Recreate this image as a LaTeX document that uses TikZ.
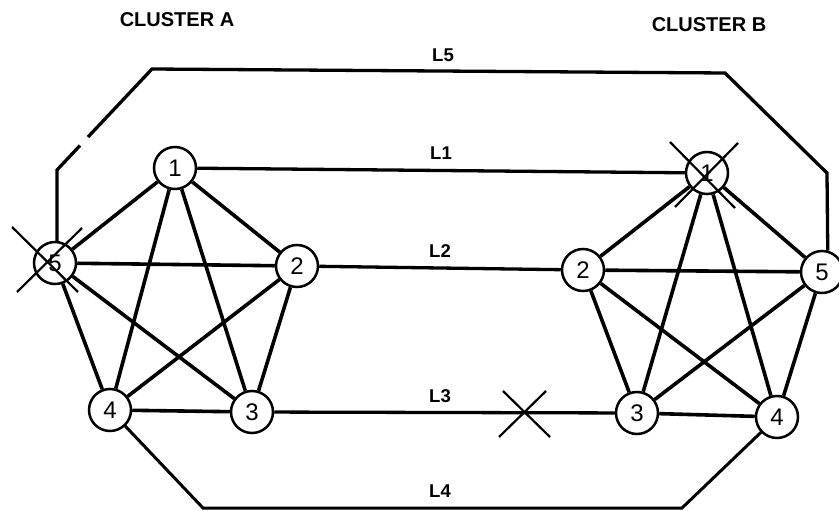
\documentclass[tikz,border=0pt]{standalone}
\usepackage{fontspec}
\setmainfont{Liberation Sans}
\usetikzlibrary{calc}
\tikzset{
  vtx/.style={circle,draw,line width=2.5pt,minimum size=42pt,inner sep=0pt,fill=white,
    font=\fontsize{24}{24}\selectfont},
  edge/.style={line width=3.6pt},
  link/.style={line width=3.3pt},
  cut/.style={line width=2.2pt},
  lbl/.style={font=\fontsize{18.5}{18.5}\selectfont\bfseries,inner sep=0pt},
  clbl/.style={font=\fontsize{20}{20}\selectfont\bfseries,inner sep=0pt}
}
\begin{document}
\begin{tikzpicture}[x=1pt,y=-1pt]
\useasboundingbox (0,0) rectangle (839,511);
% Cluster A nodes
\node[vtx] (A1) at (175,168) {1};
\node[vtx] (A2) at (297,266) {2};
\node[vtx] (A3) at (252,412) {3};
\node[vtx] (A4) at (110,410) {4};
\node[vtx] (A5) at (55,263) {5};
% Cluster B nodes
\node[vtx] (B1) at (707,173) {1};
\node[vtx] (B2) at (583,270) {2};
\node[vtx] (B3) at (637,413) {3};
\node[vtx] (B4) at (777,417) {4};
\node[vtx] (B5) at (822,272) {5};
% labels
\node[clbl] (cA) at (177,20) {CLUSTER A};
\node[clbl] (cB) at (709,25) {CLUSTER B};
\node[lbl] (l5) at (443,55) {L5};
\node[lbl] (l1) at (441,153) {L1};
\node[lbl] (l2) at (440,251) {L2};
\node[lbl] (l3) at (440,396) {L3};
\node[lbl] (l4) at (440,491) {L4};
% coordinates for outer links
\coordinate (p5a) at (57,170);
\coordinate (p5b) at (80,145.5);
\coordinate (p5c) at (88,137);
\coordinate (p5d) at (152,69);
\coordinate (p5e) at (725,73);
\coordinate (p5f) at (827,173);
\coordinate (p4a) at (203,508);
\coordinate (p4b) at (682,508);
% Cluster A complete graph
\foreach \a/\b in {1/2,1/3,1/4,1/5,2/3,2/4,2/5,3/4,3/5,4/5}
  \draw[edge] (A\a) -- (A\b);
% Cluster B complete graph
\foreach \a/\b in {1/2,1/3,1/4,1/5,2/3,2/4,2/5,3/4,3/5,4/5}
  \draw[edge] (B\a) -- (B\b);
% inter-cluster links
\draw[link] (A1) -- (B1);
\draw[link] (A2) -- (B2);
\draw[link] (A3) -- (B3);
\draw[link,line join=miter] (A5.85) -- (p5a) -- (p5b);
\draw[link,line join=miter] (p5c) -- (p5d) -- (p5e) -- (p5f) -- (B5.75);
\draw[link,line width=3pt,line join=miter] (A4) -- (p4a) -- (p4b) -- (B4);
% failure marks
\draw[cut] (12,227) -- (78,292);
\draw[cut] (82,228) -- (17,292);
\draw[cut] (670,142) -- (735,208);
\draw[cut] (738,143) -- (675,207);
\draw[cut] (503,391) -- (550,437);
\draw[cut] (546,391) -- (499,437);
\end{tikzpicture}
\end{document}
